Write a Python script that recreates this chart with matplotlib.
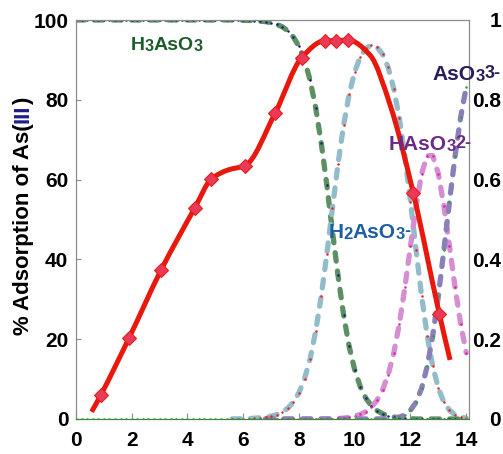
import numpy as np
import matplotlib
matplotlib.use('Agg')
import matplotlib.pyplot as plt
from matplotlib.path import Path
from matplotlib.patches import PathPatch

# ---------------- data ----------------
# % adsorption of As(III) (red diamonds)
ph_ads = [0.89, 1.91, 3.05, 4.27, 4.85, 6.06, 7.14, 8.10, 8.93, 9.33, 9.75, 12.10, 13.04]
ads = [6.0, 20.4, 37.3, 53.0, 60.1, 63.5, 76.6, 90.6, 94.8, 94.8, 95.0, 56.7, 26.2]
# smoothed red fit curve (passes through the diamonds)
fit_ph = [0.56, 0.89, 1.91, 3.05, 4.27, 4.85, 5.45, 6.06, 7.14, 8.10, 8.93, 9.33, 9.75,
          10.55, 11.27, 12.10, 13.04, 13.42]
fit_ads = [1.8, 6.0, 20.4, 37.3, 53.0, 60.1, 62.4, 63.5, 76.6, 90.6, 94.8, 94.8, 95.0,
           91.2, 78.7, 56.7, 26.2, 14.8]

# speciation fractions (right axis), pH 0 .. 14 every 0.2
ph_spec = [0.0, 0.2, 0.4, 0.6, 0.8, 1.0, 1.2, 1.4, 1.6, 1.8, 2.0, 2.2, 2.4, 2.6, 2.8,
           3.0, 3.2, 3.4, 3.6, 3.8, 4.0, 4.2, 4.4, 4.6, 4.8, 5.0, 5.2, 5.4, 5.6, 5.8,
           6.0, 6.2, 6.4, 6.6, 6.8, 7.0, 7.2, 7.4, 7.6, 7.8, 8.0, 8.2, 8.4, 8.6, 8.8,
           9.0, 9.2, 9.4, 9.6, 9.8, 10.0, 10.2, 10.4, 10.6, 10.8, 11.0, 11.2, 11.4, 11.6, 11.8,
           12.0, 12.2, 12.4, 12.6, 12.8, 13.0, 13.2, 13.4, 13.6, 13.8, 14.0]
h3aso3 = [1.0] * 28 + [
    1.0, 1.0, 0.999, 0.999, 0.998, 0.997, 0.996, 0.993, 0.989, 0.983, 0.973, 0.957, 0.934,
    0.899, 0.849, 0.780, 0.691, 0.586, 0.471, 0.360, 0.261, 0.182, 0.123, 0.081, 0.052,
    0.033, 0.021, 0.013, 0.008, 0.005, 0.003, 0.002, 0.001, 0, 0, 0, 0, 0, 0, 0, 0, 0, 0]
h2aso3 = [0.0] * 28 + [
    0.0003, 0.0004, 0.0007, 0.001, 0.002, 0.003, 0.004, 0.007, 0.011, 0.018, 0.027, 0.043,
    0.066, 0.101, 0.151, 0.220, 0.309, 0.414, 0.528, 0.639, 0.736, 0.814, 0.870, 0.908,
    0.929, 0.937, 0.932, 0.914, 0.881, 0.828, 0.754, 0.658, 0.545, 0.424, 0.308, 0.209,
    0.132, 0.077, 0.042, 0.022, 0.010, 0.005, 0.002]
haso3 = [0.0] * 44 + [
    0.0001, 0.0003, 0.0007, 0.0013, 0.0023, 0.0041, 0.0069, 0.0114, 0.0185, 0.030, 0.047,
    0.073, 0.111, 0.165, 0.238, 0.330, 0.433, 0.533, 0.615, 0.660, 0.660, 0.615, 0.534,
    0.433, 0.330, 0.239, 0.166]
aso3 = [0.0] * 53 + [
    0.0001, 0.0001, 0.0004, 0.0009, 0.002, 0.005, 0.010, 0.022, 0.042, 0.077, 0.132,
    0.209, 0.308, 0.424, 0.545, 0.659, 0.756, 0.832]

x_ticks = [0, 2, 4, 6, 8, 10, 12, 14]
y_ticks = [0, 20, 40, 60, 80, 100]
y2_ticks = [0, 0.2, 0.4, 0.6, 0.8, 1.0]
y2_labels = ['0', '0.2', '0.4', '0.6', '0.8', '1']

# ---------------- style ----------------
plt.rcParams['font.family'] = ['Liberation Sans', 'DejaVu Sans']
plt.rcParams['font.weight'] = 'bold'

W, H = 503, 454
fig = plt.figure(figsize=(W / 100, H / 100), dpi=100)
fig.patch.set_facecolor('white')
ax = fig.add_axes([76 / W, 35 / H, (469 - 76) / W, (419 - 20) / H])
ax2 = ax.twinx()
ax.set_zorder(ax2.get_zorder() + 1)
ax.patch.set_visible(False)

ax.set_xlim(0, 14.1)
ax.set_ylim(0, 100)
ax2.set_ylim(0, 1)

# speciation curves
species = [
    (h3aso3, '#5c8f62', '#1a1a80', 0.0),
    (h2aso3, '#93bccb', '#f02020', 5.6),
    (haso3, '#d58ed2', '#e0209a', 6.8),
    (aso3, '#8a7fb8', '#2e9e3e', 6.8),
]
phs = np.array(ph_spec)
for vals, col, dcol, start in species:
    v = np.array(vals)
    m = phs >= start - 1e-9
    ax2.plot(phs[m], v[m], color=col, lw=3.8, dashes=(1.6, 1.9),
             dash_capstyle='round', solid_capstyle='round', zorder=2)
for vals, col, dcol, start in species:
    v = np.array(vals)
    m = phs >= start - 1e-9
    if dcol == '#2e9e3e':
        m = np.ones_like(m)
    ax2.plot(phs[m], v[m], ls='none', marker='o', ms=1.8, mew=0, color=dcol, zorder=3)

# red smoothed adsorption curve: monotone cubic Hermite (PCHIP) drawn as Bezier path
fx = np.array(fit_ph, float)
fy = np.array(fit_ads, float)
n = len(fx)
hk = np.diff(fx)
dk = np.diff(fy) / hk
slopes = np.zeros(n)
for i in range(1, n - 1):
    if dk[i - 1] * dk[i] <= 0:
        slopes[i] = 0.0
    else:
        w1 = 2 * hk[i] + hk[i - 1]
        w2 = hk[i] + 2 * hk[i - 1]
        slopes[i] = (w1 + w2) / (w1 / dk[i - 1] + w2 / dk[i])
slopes[0] = dk[0]
slopes[-1] = dk[-1]
verts = [(fx[0], fy[0])]
codes = [Path.MOVETO]
for i in range(n - 1):
    h = hk[i]
    verts += [(fx[i] + h / 3, fy[i] + slopes[i] * h / 3),
              (fx[i + 1] - h / 3, fy[i + 1] - slopes[i + 1] * h / 3),
              (fx[i + 1], fy[i + 1])]
    codes += [Path.CURVE4] * 3
ax.add_patch(PathPatch(Path(verts, codes), fill=False, ec='#e8180c', lw=3.6,
                       capstyle='butt', joinstyle='round', zorder=4))
ax.plot(ph_ads, ads, ls='none', marker='D', ms=7.5, mfc='#ea3a58', mec='#e3201b',
        mew=0.8, zorder=5)

# spines / ticks
for s in ['left', 'top', 'right']:
    ax.spines[s].set_color('#8c8c8c')
    ax.spines[s].set_linewidth(0.9)
ax.spines['bottom'].set_color('#3a8a3a')
ax.spines['bottom'].set_linewidth(0.9)
for s in ax2.spines.values():
    s.set_visible(False)

ax.set_xticks(x_ticks)
ax.set_yticks(y_ticks)
ax.tick_params(axis='x', direction='in', length=4, color='#8c8c8c', labelsize=15, pad=9)
ax.tick_params(axis='y', direction='in', length=3.5, color='#8c8c8c', labelsize=15, pad=5.5)
ax.set_xticklabels([str(t) for t in x_ticks], fontweight='bold')
ax.set_yticklabels([str(t) for t in y_ticks], fontweight='bold')
ax2.set_yticks(y2_ticks)
ax2.set_yticklabels(y2_labels, fontweight='bold')
ax2.tick_params(axis='y', length=0, labelsize=15, pad=23)
for lab in ax2.get_yticklabels():
    lab.set_horizontalalignment('right')

# y label with coloured (III)
yl1 = ax.text(23.5 / W, (H - 335) / H, '% Adsorption of As(', transform=fig.transFigure,
              rotation=90, ha='center', va='bottom', fontsize=16, fontweight='bold')
yl2 = ax.annotate('III', xy=(0.5, 1), xycoords=yl1, rotation=90, ha='center', va='bottom',
                  fontsize=16, fontweight='bold', color='#1c1c8c', annotation_clip=False)
yl3 = ax.annotate(')', xy=(0.5, 1), xycoords=yl2, rotation=90, ha='center', va='bottom',
                  fontsize=16, fontweight='bold', annotation_clip=False)


def chem_label(x, y, parts, color):
    prev = ax.text(x, y, parts[0][0], fontsize=parts[0][1], color=color,
                   fontweight='bold', ha='left', va='baseline', transform=ax.transData,
                   zorder=6)
    for txt, size, sup in parts[1:]:
        if sup:
            prev = ax.annotate(txt, xy=(1, 1), xycoords=prev, ha='left', va='top',
                               xytext=(0, 3), textcoords='offset points', fontsize=size,
                               color=color, fontweight='bold', annotation_clip=False,
                               zorder=6)
        else:
            prev = ax.annotate(txt, xy=(1, 0), xycoords=prev, ha='left', va='bottom',
                               fontsize=size, color=color, fontweight='bold',
                               annotation_clip=False, zorder=6)


chem_label(1.95, 92.5, [('H', 14, False), ('3', 11.5, False), ('AsO', 14, False),
                        ('3', 11.5, False)], '#1f5c2c')
chem_label(9.05, 45.4, [('H', 15, False), ('2', 12, False), ('AsO', 15, False),
                        ('3', 12, False), ('-', 13, True)], '#1c5fa5')
chem_label(11.2, 67.4, [('HAsO', 15, False), ('3', 12, False), ('2-', 13, True)],
           '#6a2a8a')
chem_label(12.78, 85.0, [('AsO', 15, False), ('3', 12, False), ('3-', 13, True)],
           '#2b1a5c')

fig.savefig('out.png', dpi=100)
